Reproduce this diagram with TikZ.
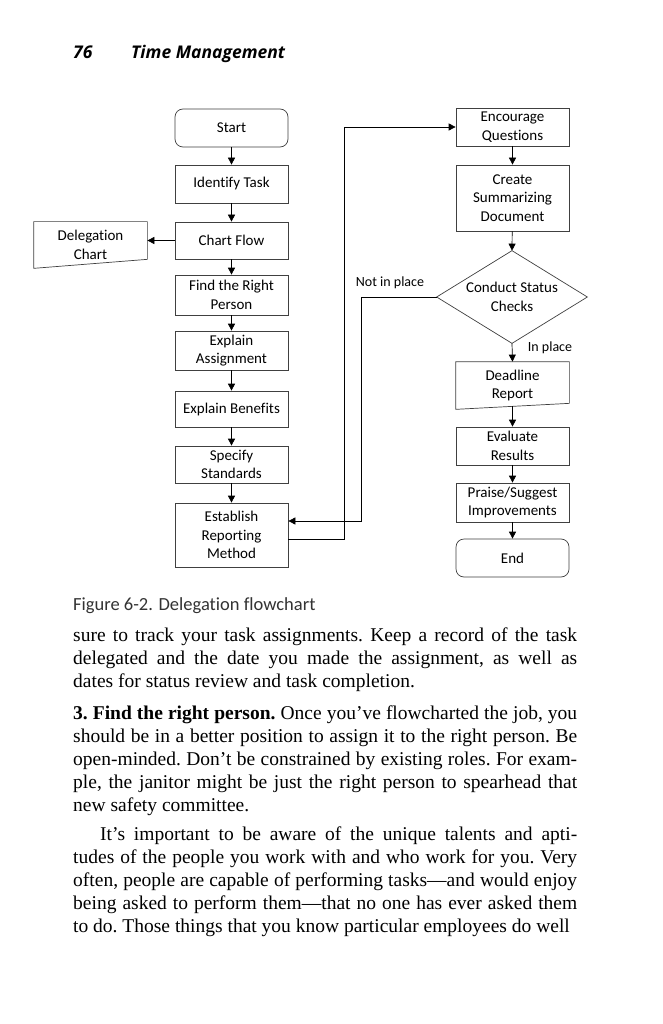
\documentclass[tikz,border=0pt]{standalone}
\usepackage{fontspec}
\setmainfont{Liberation Serif}
\newfontfamily\chartfont[Ligatures=NoCommon]{Carlito}
\newfontfamily\headfont{Open Sans}
\usetikzlibrary{arrows.meta}
\begin{document}
\begin{tikzpicture}[x=1pt,y=-1pt,
    box/.style={draw=black!75, line width=0.7pt, minimum width=113pt, inner sep=2pt, align=center, font=\chartfont\fontsize{15}{18.5}\selectfont},
    term/.style={box, rounded corners=8pt},
    plain/.style={box, draw=none},
    edge/.style={draw=black!75, line width=0.7pt},
    arr/.style={line width=0.7pt, -{Triangle[length=7pt,width=7pt]}},
    lbl/.style={font=\chartfont\fontsize{14}{15}\selectfont, inner sep=0pt}]
  \useasboundingbox[fill=white] (0,0) rectangle (662,1024);
  % running head
  \node[anchor=base west, inner sep=0pt, font=\headfont\bfseries\itshape\fontsize{17.5}{20}\selectfont] (pagenum) at (73,59) {76};
  \node[anchor=base west, inner sep=0pt, font=\headfont\bfseries\itshape\fontsize{17.5}{20}\selectfont] (runhead) at (131,59) {Time Management};
  % left column
  \node[term, minimum height=38pt] (start) at (231.5,128) {Start};
  \node[box, minimum height=38pt] (identify) at (231.5,184) {Identify Task};
  \node[box, minimum height=37pt] (chart) at (231.5,240.5) {Chart Flow};
  \node[box, minimum height=40pt] (find) at (231.5,295) {Find the Right\\Person};
  \node[box, minimum height=39pt] (explA) at (231.5,350.5) {Explain\\Assignment};
  \node[box, minimum height=36pt] (explB) at (231.5,409) {Explain Benefits};
  \node[box, minimum height=37pt] (spec) at (231.5,464.5) {Specify\\Standards};
  \node[box, minimum height=64pt] (estab) at (231.5,535) {Establish\\Reporting\\Method};
  \node[plain, minimum height=46pt] (deleg) at (90.5,245) {Delegation\\Chart};
  \draw[edge] (deleg.north west) -- (deleg.north east) -- ([yshift=9pt]deleg.south east) -- (deleg.south west) -- cycle;
  % right column
  \node[box, minimum height=38pt] (enc) at (512.5,127) {Encourage\\Questions};
  \node[box, minimum height=66pt] (create) at (512.5,198) {Create\\Summarizing\\Document};
  \node[plain, minimum width=150pt, minimum height=92pt] (status) at (512,297) {Conduct Status\\Checks};
  \draw[edge] (status.north) -- (status.east) -- (status.south) -- (status.west) -- cycle;
  \node[plain, minimum height=47pt] (deadline) at (512.5,385.5) {Deadline\\Report};
  \draw[edge] (deadline.north west) -- (deadline.north east) -- ([yshift=6pt]deadline.south east) -- (deadline.south west) -- cycle;
  \node[box, minimum height=38pt] (evaluate) at (512.5,446) {Evaluate\\Results};
  \node[box, minimum height=39pt] (praise) at (512.5,502.5) {Praise/Suggest\\Improvements};
  \node[term, minimum height=38pt] (end) at (512.5,558) {End};
  \node[lbl] (notinplace) at (390,283) {Not in place};
  \node[lbl] (inplace) at (550,348) {In place};
  % connectors
  \draw[arr] (start) -- (identify);
  \draw[arr] (identify) -- (chart);
  \draw[arr] (chart) -- (find);
  \draw[arr] (find) -- (explA);
  \draw[arr] (explA) -- (explB);
  \draw[arr] (explB) -- (spec);
  \draw[arr] (spec) -- (estab);
  \draw[arr] (chart.west) -- (chart.west -| deleg.east);
  \draw[arr] ([yshift=-4pt]estab.east) -- ++(56,0) |- (enc.west);
  \draw[arr] (status.west) -- ++(-75,0) |- ([yshift=14pt]estab.east);
  \draw[arr] (enc) -- (create);
  \draw[arr] (create) -- (status.north);
  \draw[arr] (status.south) -- (deadline.north);
  \draw[arr] ([yshift=3pt]deadline.south) -- (evaluate);
  \draw[arr] (evaluate) -- (praise);
  \draw[arr] (praise) -- (end);
  % caption and text
  \node[anchor=base west, inner sep=0pt, text=black!80, font=\chartfont\fontsize{18.5}{20}\selectfont] (caption) at (73,610) {Figure 6-2. Delegation flowchart};
  \node[anchor=north west, inner sep=0pt, text width=504pt, align=justify, font=\fontsize{19.5}{23}\selectfont\frenchspacing] (body) at (73,628) {%
    sure to track your task assignments. Keep a record of the task\linebreak
    delegated and the date you made the assignment, as well as\linebreak
    dates for status review and task completion.\par\vspace{9pt}
    \textbf{3. Find the right person.} Once you’ve flowcharted the job, you\linebreak
    should be in a better position to assign it to the right person. Be\linebreak
    open-minded. Don’t be constrained by existing roles. For exam-\linebreak
    ple, the janitor might be just the right person to spearhead that\linebreak
    new safety committee.\par\vspace{6pt}
    \hspace*{27pt}It’s important to be aware of the unique talents and apti-\linebreak
    tudes of the people you work with and who work for you. Very\linebreak
    often, people are capable of performing tasks—and would enjoy\linebreak
    being asked to perform them—that no one has ever asked them\linebreak
    to do. Those things that you know particular employees do well\par};
\end{tikzpicture}
\end{document}
